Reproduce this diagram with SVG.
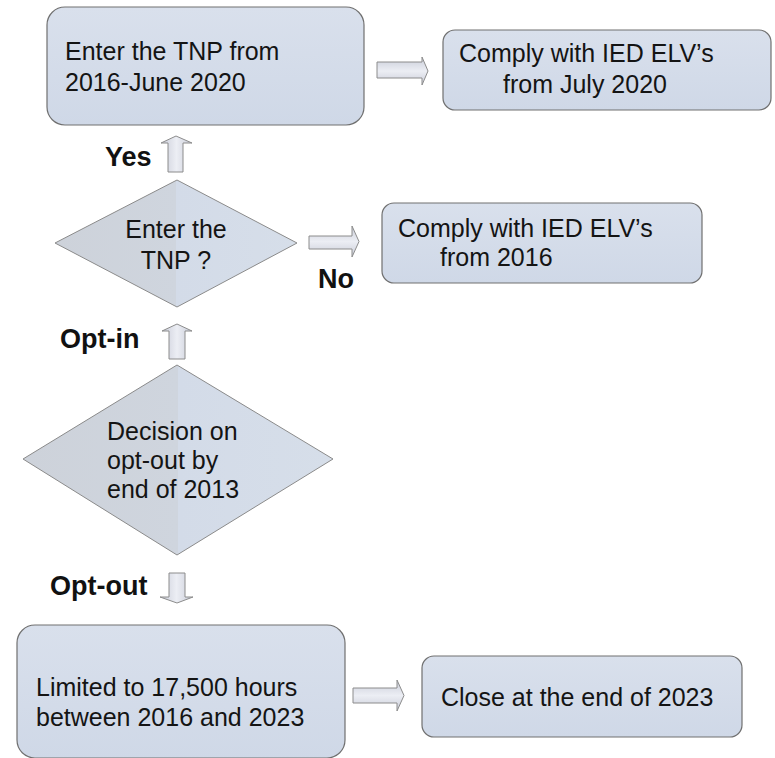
<svg xmlns="http://www.w3.org/2000/svg" width="775" height="758" viewBox="0 0 775 758">
  <defs>
    <linearGradient id="boxFill" x1="0" y1="0" x2="0" y2="1">
      <stop offset="0" stop-color="#d9e0ec"/>
      <stop offset="1" stop-color="#cfd8e7"/>
    </linearGradient>
    <linearGradient id="diaFill" x1="0" y1="0" x2="1" y2="0">
      <stop offset="0" stop-color="#cdd2da"/>
      <stop offset="0.5" stop-color="#cfd5de"/>
      <stop offset="0.5" stop-color="#d3dbe8"/>
      <stop offset="1" stop-color="#d6dee9"/>
    </linearGradient>
    <linearGradient id="arrV" x1="0" y1="0" x2="1" y2="0">
      <stop offset="0" stop-color="#c9ccd8"/>
      <stop offset="0.5" stop-color="#eceef4"/>
      <stop offset="1" stop-color="#c9ccd8"/>
    </linearGradient>
    <linearGradient id="arrH" x1="0" y1="0" x2="0" y2="1">
      <stop offset="0" stop-color="#c9ccd8"/>
      <stop offset="0.5" stop-color="#eceef4"/>
      <stop offset="1" stop-color="#c9ccd8"/>
    </linearGradient>
  </defs>
  <style>
    .box { fill: url(#boxFill); stroke: #707070; stroke-width: 1.2; }
    .dia { fill: url(#diaFill); stroke: #8a8a8a; stroke-width: 1; }
    .av { fill: url(#arrV); stroke: #8c8c8c; stroke-width: 1; }
    .ah { fill: url(#arrH); stroke: #8c8c8c; stroke-width: 1; }
    .t { font-family: "Liberation Sans", Arial, sans-serif; font-size: 25px; fill: #141414; }
    .tc { text-anchor: middle; }
    .lbl { font-family: "Liberation Sans", Arial, sans-serif; font-size: 27px; font-weight: bold; fill: #111; }
  </style>
  <rect width="775" height="758" fill="#ffffff"/>

  <g id="n-enter-tnp-period">
    <rect class="box" x="47" y="7" width="317" height="118" rx="18"/>
    <text class="t" x="65" y="60">Enter the TNP from</text>
    <text class="t" x="65" y="91">2016-June 2020</text>
  </g>

  <g id="n-comply-2020">
    <rect class="box" x="443" y="30" width="328" height="80" rx="12"/>
    <text class="t" x="459" y="62">Comply with IED ELV’s</text>
    <text class="t" x="503" y="93">from July 2020</text>
  </g>

  <g id="n-enter-tnp-q">
    <polygon class="dia" points="177,180 297,243 177,307 55,243"/>
    <text class="t tc" x="176" y="238">Enter the</text>
    <text class="t tc" x="176" y="269">TNP ?</text>
  </g>

  <g id="n-comply-2016">
    <rect class="box" x="382" y="203" width="320" height="80" rx="12"/>
    <text class="t" x="398" y="237">Comply with IED ELV’s</text>
    <text class="t" x="440" y="266">from 2016</text>
  </g>

  <g id="n-decision">
    <polygon class="dia" points="177,365 333,459 177,555 23,459"/>
    <text class="t" x="107" y="440">Decision on</text>
    <text class="t" x="107" y="469">opt-out by</text>
    <text class="t" x="107" y="498">end of 2013</text>
  </g>

  <g id="n-limited">
    <rect class="box" x="17" y="625" width="328" height="133" rx="18"/>
    <text class="t" x="36" y="696">Limited to 17,500 hours</text>
    <text class="t" x="36" y="726">between 2016 and 2023</text>
  </g>

  <g id="n-close">
    <rect class="box" x="422" y="656" width="320" height="81" rx="12"/>
    <text class="t" x="441" y="706">Close at the end of 2023</text>
  </g>

  <g id="connectors">
    <polygon class="ah" points="377,62 422,62 422,57 428,71 422,85 422,78 377,78"/>
    <polygon class="av" points="176,136 192,143 183,143 183,172 168,172 168,143 161,143"/>
    <text class="lbl" x="105" y="166">Yes</text>
    <polygon class="ah" points="309,236 352,236 352,226 359,241.5 352,257 352,249 309,249"/>
    <text class="lbl" x="318" y="288">No</text>
    <polygon class="av" points="177,324 192,331 185,331 185,359 169,359 169,331 162,331"/>
    <text class="lbl" x="60" y="348">Opt-in</text>
    <polygon class="av" points="169,573 185,573 185,597 193,597 177,603 160,597 169,597"/>
    <text class="lbl" x="50" y="595">Opt-out</text>
    <polygon class="ah" points="353,688 397,688 397,680 404,695.5 397,711 397,703 353,703"/>
  </g>
</svg>
